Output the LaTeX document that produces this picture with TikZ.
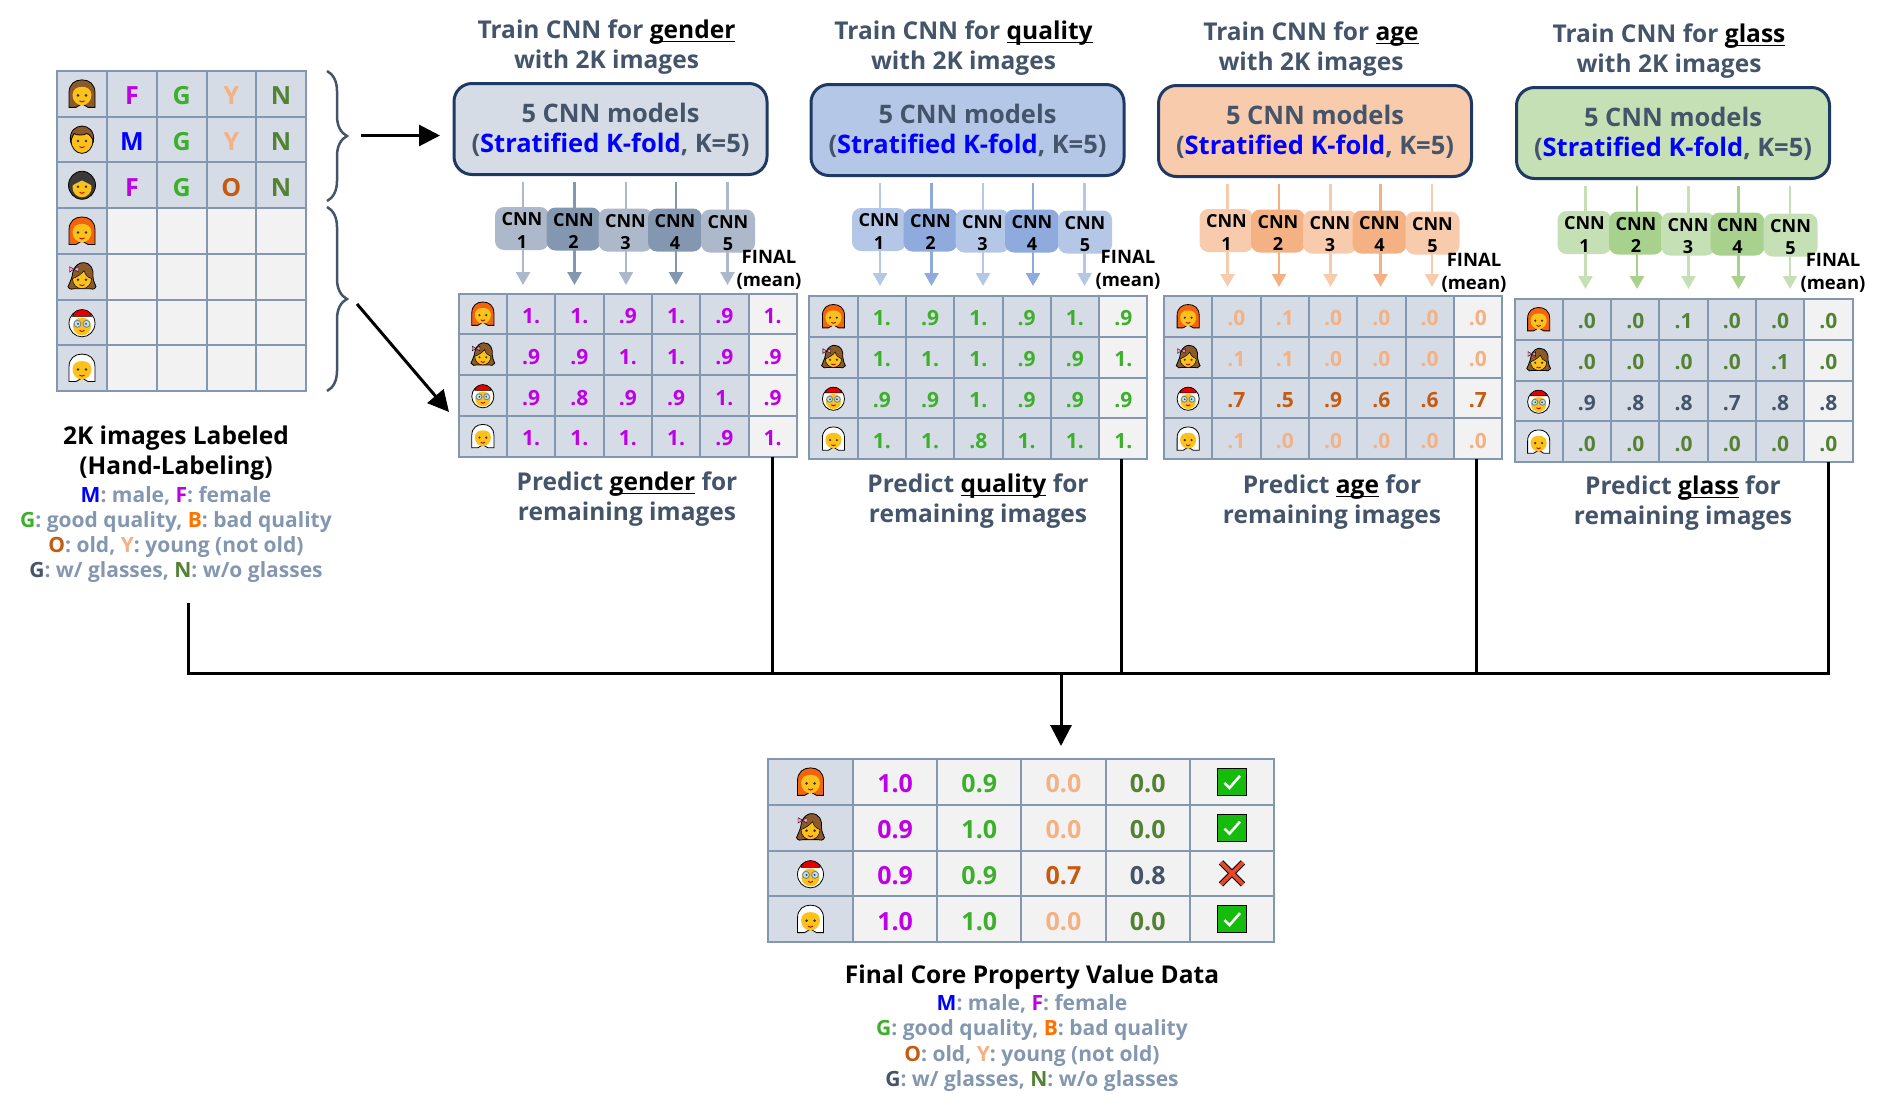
\documentclass[tikz,border=0pt]{standalone}
\usepackage{fontspec}
\setmainfont{Open Sans}
\usetikzlibrary{arrows.meta, positioning, decorations.pathreplacing}

\definecolor{slate}{HTML}{44546A}
\definecolor{gridline}{HTML}{8497B0}
\definecolor{cellblue}{HTML}{D6DCE5}
\definecolor{cellgray}{HTML}{F2F2F2}
\definecolor{boxline}{HTML}{1F3864}
\definecolor{cmale}{HTML}{0000FF}
\definecolor{cfemale}{HTML}{BF00E6}
\definecolor{cgood}{HTML}{3CB02A}
\definecolor{cbad}{HTML}{FF7200}
\definecolor{cold}{HTML}{C55A11}
\definecolor{cyoung}{HTML}{F4B183}
\definecolor{cno}{HTML}{548235}
\definecolor{faceyel}{HTML}{FCC21B}
\definecolor{hairbrown}{HTML}{8A5A2B}
\definecolor{hairdark}{HTML}{3A3A3A}
\definecolor{hairred}{HTML}{F4640F}
\definecolor{okgreen}{HTML}{16BC0C}
\definecolor{noired}{HTML}{E8482A}
\definecolor{genlight}{HTML}{ADB9CA}
\definecolor{qualbox}{HTML}{B4C7E7}
\definecolor{qualdark}{HTML}{8FAADC}
\definecolor{agebox}{HTML}{F8CBAD}
\definecolor{glassbox}{HTML}{C5E0B4}
\definecolor{glassdark}{HTML}{A9D18E}

\newcommand{\facebits}{%
  \fill[black!80] (-4,1.5) circle (1.4) (4,1.5) circle (1.4);
  \draw[red!75!black,line width=.9pt] (-2.5,7) .. controls (-1,8.5) and (1,8.5) .. (2.5,7);}
\newcommand{\wordline}[1]{\setbox0\hbox{#1}\rlap{\rule[-3.5pt]{\wd0}{1.6pt}}\box0}

\tikzset{
  cellbox/.style={draw=gridline, line width=2pt, inner sep=0pt, outer sep=0pt, text height=19pt, text depth=0pt, font=\fontsize{21}{21}\selectfont\bfseries},
  bigcell/.style={cellbox, text height=22pt, font=\fontsize{25}{25}\selectfont\bfseries},
  trainbox/.style={draw=boxline, line width=3pt, rounded corners=18pt, anchor=north west, minimum width=313pt, minimum height=91pt,
    inner sep=0pt, align=center, text=slate, font=\fontsize{25.5}{30}\selectfont\bfseries},
  titletext/.style={align=center, text=slate, inner sep=0pt, font=\fontsize{24.5}{30}\selectfont\bfseries},
  cnnblock/.style={rounded corners=9pt, minimum width=54pt, minimum height=43pt, inner sep=0pt, align=center, font=\fontsize{18}{22.5}\selectfont\bfseries},
  finaltext/.style={align=center, inner sep=0pt, font=\fontsize{18.5}{23}\selectfont\bfseries},
  legendtext/.style={align=center, inner sep=0pt, text=gridline, font=\fontsize{21}{25.3}\selectfont\bfseries},
  cnnarrow/.style={-{Triangle[length=13pt,width=14pt]}, line width=2.5pt},
  bigarrow/.style={-{Triangle[length=21pt,width=21pt]}, line width=3pt, black},
  busline/.style={line width=3pt, black},
  bracket/.style={draw=slate, line width=2.5pt, decorate, decoration={brace, amplitude=20pt}},
  pics/longhair/.style={code={
    \draw[fill=#1,line width=.8pt] (-13,13.5) -- (-13,-1) .. controls (-13,-10) and (-7,-14) .. (0,-14)
      .. controls (7,-14) and (13,-10) .. (13,-1) -- (13,13.5) -- (6,13.5) -- (0,10) -- (-6,13.5) -- cycle;
    \fill[faceyel] (-9.5,1) .. controls (-9,-5) and (-5,-7) .. (0,-7) .. controls (5,-7) and (9,-5) .. (9.5,1)
      .. controls (9.5,7) and (5,11.5) .. (0,11.5) .. controls (-5,11.5) and (-9.5,7) .. (-9.5,1) -- cycle;
    \facebits}},
  pics/brownhair/.style={longhair=hairbrown},
  pics/redhair/.style={longhair=hairred},
  pics/whitehair/.style={longhair=white},
  pics/boyface/.style={code={
    \draw[fill=faceyel,line width=.8pt] (0,1) ellipse (11 and 12.8);
    \draw[fill=hairbrown,line width=.8pt] (-11.5,2) .. controls (-13,-9) and (-6,-13.5) .. (0,-13.5)
      .. controls (6,-13.5) and (13,-9) .. (11.5,2) .. controls (10,-2) and (8,-5) .. (5,-6)
      .. controls (1,-4) and (-5,-4) .. (-8,-6) .. controls (-9,-4) and (-10.5,-1) .. (-11.5,2) -- cycle;
    \facebits}},
  pics/darkface/.style={code={
    \draw[fill=hairdark,line width=.8pt] (0,0) ellipse (13.5 and 14);
    \fill[faceyel] (0,2) ellipse (9.5 and 10);
    \fill[hairdark] (-9.5,0) .. controls (-9,-6) and (-4,-9) .. (0,-9) .. controls (4,-9) and (9,-6) .. (9.5,0)
      .. controls (6,-2) and (2,-4) .. (0,-5) .. controls (-2,-4) and (-6,-2) .. (-9.5,0) -- cycle;
    \facebits}},
  pics/bowgirl/.style={code={
    \draw[fill=hairbrown,line width=.8pt] (-9,-5) .. controls (-7,-12) and (-2,-14) .. (1,-14)
      .. controls (9,-14) and (12,-7) .. (11,0) .. controls (11,4) and (13,7) .. (14,10) .. controls (13,13) and (9,13) .. (7,12)
      -- (-7,12) .. controls (-9,13) and (-13,13) .. (-14,10) .. controls (-13,7) and (-11,4) .. (-10,0) -- cycle;
    \draw[fill=faceyel,line width=.5pt] (-9.5,2) .. controls (-9.5,8) and (-5,12) .. (0,12) .. controls (5,12) and (9.5,8) .. (9.5,2)
      .. controls (6,1) and (3,-2) .. (2,-6) .. controls (-1,-2) and (-5,0) .. (-9.5,2) -- cycle;
    \draw[fill=pink!80!magenta,line width=.4pt] (-12.5,-10) -- (-8,-7.5) -- (-12.5,-4.5) -- cycle (-3.5,-10) -- (-8,-7.5) -- (-3.5,-4.5) -- cycle;
    \fill[black!80] (-4,3) circle (1.4) (4,3) circle (1.4);
    \draw[red!75!black,line width=.9pt] (-2.5,8) .. controls (-1,9.5) and (1,9.5) .. (2.5,8);}},
  pics/clausface/.style={code={
    \draw[fill=white,line width=.8pt] (0,1) ellipse (13 and 13.5);
    \fill[faceyel] (0,4) ellipse (9 and 9);
    \fill[white] (-10,-1) .. controls (-6,-6) and (6,-6) .. (10,-1) -- (10,-5) -- (-10,-5) -- cycle;
    \draw[fill=red!90!black,line width=.6pt] (-9.5,-6) .. controls (-8,-15) and (8,-15) .. (9.5,-6) -- cycle;
    \draw[gray,fill=white!70!cyan,line width=.9pt] (-4.5,1.5) circle (3.5) (4.5,1.5) circle (3.5);
    \fill[black!80] (-4,1.5) circle (1.1) (4,1.5) circle (1.1);
    \draw[red!75!black,line width=.9pt] (-2.5,8) .. controls (-1,9.5) and (1,9.5) .. (2.5,8);}},
  pics/okmark/.style={code={
    \draw[fill=okgreen,line width=1pt] (-14.5,-13.5) rectangle (14.5,13.5);
    \draw[white,line width=2.6pt] (-7.5,1) -- (-2.5,6) -- (8,-6);}},
  pics/noimark/.style={code={
    \draw[black,line width=6pt] (-11,-11) -- (11,11) (11,-11) -- (-11,11);
    \draw[noired,line width=4pt] (-11,-11) -- (11,11) (11,-11) -- (-11,11);}},
}

% one training column: name, left, top, box fill, light, dark, word
\newcommand{\traingroup}[7]{%
  \node[trainbox, fill=#4] (#1) at (#2,#3) {\rule{0pt}{22pt}5 CNN models\\(\textcolor{cmale}{Stratified K-fold}, K=5)};
  \node[titletext, above=7pt of #1, xshift=-4pt] (#1-title) {Train CNN for {\color{black}\wordline{#7}}\\with 2K images};
  \foreach \ax/\bx/\by [count=\i] in {70.5/69.5/146.5, 122/121/147, 173.5/173/148, 223.5/222.5/148, 275/275.5/149} {
    \ifodd\i \def\cc{#5}\else \def\cc{#6}\fi
    \coordinate (#1-s\i) at (#2+\ax,#3+100);
    \coordinate (#1-e\i) at (#2+\ax,#3+203);
    \draw[cnnarrow, draw=\cc, fill=\cc] (#1-s\i) -- (#1-e\i);
    \node[cnnblock, fill=\cc] (#1-b\i) at (#2+\bx,#3+\by) {\rule{0pt}{17pt}CNN\\\i};
  }
}

% prediction table: name, left, top, colour, colour of row 3, rows
\newcommand{\predtable}[6]{%
  \foreach \e [count=\r] in {redhair,bowgirl,clausface,whitehair} {
    \node[cellbox, fill=cellblue, minimum width=48.3pt, minimum height=40.8pt] (#1-\r-0) at (#2+24.15,#3+\r*40.8-20.4) {};
    \pic[scale=.85] at (#1-\r-0) {\e};
  }
  \foreach \vals [count=\r] in {#6} {
    \foreach \v [count=\c] in \vals {
      \ifnum\r=3 \def\cc{#5}\else \def\cc{#4}\fi
      \ifnum\c=6 \def\bg{cellgray}\else \def\bg{cellblue}\fi
      \node[cellbox, fill=\bg, text=\cc, minimum width=48.3pt, minimum height=40.8pt] (#1-\r-\c) at (#2+\c*48.3+24.15,#3+\r*40.8-20.4) {\v};
    }
  }
}

\newcommand{\legendlines}{\textcolor{cmale}{M}: male, \textcolor{cfemale}{F}: female\\
  \textcolor{cgood}{G}: good quality, \textcolor{cbad}{B}: bad quality\\
  \textcolor{cold}{O}: old, \textcolor{cyoung}{Y}: young (not old)\\
  \textcolor{slate}{G}: w/ glasses, \textcolor{cno}{N}: w/o glasses}

\begin{document}
\begin{tikzpicture}[x=1pt,y=-1pt]
  \useasboundingbox (0,0) rectangle (1877,1101);

  % hand labeled table
  \foreach \e [count=\r] in {brownhair,boyface,darkface,redhair,bowgirl,clausface,whitehair} {
    \node[cellbox, fill=cellblue, minimum width=50pt, minimum height=45.7pt] (lab-\r-0) at (82,71+\r*45.7-22.85) {};
    \pic at (lab-\r-0) {\e};
  }
  \foreach \vals [count=\r] in {{F/cfemale,G/cgood,Y/cyoung,N/cno},{M/cmale,G/cgood,Y/cyoung,N/cno},{F/cfemale,G/cgood,O/cold,N/cno}} {
    \foreach \v/\cc [count=\c] in \vals {
      \node[bigcell, fill=cellblue, text=\cc, minimum width=49.75pt, minimum height=45.7pt] (lab-\r-\c) at (107+\c*49.75-24.87,71+\r*45.7-22.85) {\v};
    }
  }
  \foreach \r in {4,...,7} {
    \foreach \c in {1,...,4} {
      \node[cellbox, fill=cellgray, minimum width=49.75pt, minimum height=45.7pt] (lab-\r-\c) at (107+\c*49.75-24.87,71+\r*45.7-22.85) {};
    }
  }
  \draw[bracket] (327,71) -- (327,201);
  \draw[bracket] (327,207) -- (327,391);
  \node[titletext, text=black] (lab-title) at (176,453) {2K images Labeled\\(Hand-Labeling)};
  \node[legendtext] (lab-legend) at (176,534.5) {\legendlines};

  % training columns
  \traingroup{gender}{452.5}{82}{cellblue}{genlight}{gridline}{gender}
  \traingroup{quality}{809.5}{83}{qualbox}{qualbox}{qualdark}{quality}
  \traingroup{age}{1157}{84}{agebox}{agebox}{cyoung}{age}
  \traingroup{glass}{1515}{86}{glassbox}{glassbox}{glassdark}{glass}

  % predictions
  \predtable{tgen}{458.7}{293.5}{cfemale}{cfemale}{{1.,1.,.9,1.,.9,1.},{.9,.9,1.,1.,.9,.9},{.9,.8,.9,.9,1.,.9},{1.,1.,1.,1.,.9,1.}}
  \predtable{tqual}{809.3}{296}{cgood}{cgood}{{1.,.9,1.,.9,1.,.9},{1.,1.,1.,.9,.9,1.},{.9,.9,1.,.9,.9,.9},{1.,1.,.8,1.,1.,1.}}
  \predtable{tage}{1164}{296}{cyoung}{cold}{{.0,.1,.0,.0,.0,.0},{.1,.1,.0,.0,.0,.0},{.7,.5,.9,.6,.6,.7},{.1,.0,.0,.0,.0,.0}}
  \predtable{tglass}{1514.5}{299}{cno}{slate}{{.0,.0,.1,.0,.0,.0},{.0,.0,.0,.0,.1,.0},{.9,.8,.8,.7,.8,.8},{.0,.0,.0,.0,.0,.0}}

  \node[finaltext] (fin-gen) at (769,270) {FINAL\\(mean)};
  \node[finaltext] (fin-qual) at (1128,270) {FINAL\\(mean)};
  \node[finaltext] (fin-age) at (1474,273) {FINAL\\(mean)};
  \node[finaltext] (fin-glass) at (1833,273) {FINAL\\(mean)};

  \node[titletext] (pred-gen) at (627,499.5) {Predict {\color{black}\wordline{gender}} for\\remaining images};
  \node[titletext] (pred-qual) at (978,501.5) {Predict {\color{black}\wordline{quality}} for\\remaining images};
  \node[titletext] (pred-age) at (1332,502.5) {Predict {\color{black}\wordline{age}} for\\remaining images};
  \node[titletext] (pred-glass) at (1683,503.5) {Predict {\color{black}\wordline{glass}} for\\remaining images};

  % arrows out of the labeled table
  \coordinate (topfrom) at (361,135.5);
  \coordinate (topto) at (440,135.5);
  \coordinate (lowfrom) at (357,304);
  \coordinate (lowto) at (449,412);
  \draw[bigarrow] (topfrom) -- (topto);
  \draw[bigarrow] (lowfrom) -- (lowto);

  % bus into the final table
  \coordinate (busleft) at (188,603);
  \coordinate (buscorner) at (188,673);
  \coordinate (busdrop) at (1061,673);
  \draw[busline] (busleft) -- (buscorner) -- (tglass-4-6.south |- buscorner) -- (tglass-4-6.south);
  \draw[busline] (tgen-4-6.south) -- (tgen-4-6.south |- buscorner);
  \draw[busline] ([xshift=-2pt]tqual-4-6.south) -- ([xshift=-2pt]tqual-4-6.south |- buscorner);
  \draw[busline] ([xshift=-1.5pt]tage-4-6.south) -- ([xshift=-1.5pt]tage-4-6.south |- buscorner);
  \coordinate (busend) at (1061,746);
  \draw[bigarrow] (busdrop) -- (busend);

  % final table
  \foreach \e [count=\r] in {redhair,bowgirl,clausface,whitehair} {
    \node[cellbox, fill=cellblue, minimum width=85pt, minimum height=45.75pt] (res-\r-0) at (810.5,759+\r*45.75-22.87) {};
    \pic at (res-\r-0) {\e};
  }
  \foreach \vals [count=\r] in {{1.0/cfemale,0.9/cgood,0.0/cyoung,0.0/cno},{0.9/cfemale,1.0/cgood,0.0/cyoung,0.0/cno},{0.9/cfemale,0.9/cgood,0.7/cold,0.8/slate},{1.0/cfemale,1.0/cgood,0.0/cyoung,0.0/cno}} {
    \foreach \v/\cc [count=\c] in \vals {
      \node[bigcell, fill=cellgray, text=\cc, minimum width=84.2pt, minimum height=45.75pt] (res-\r-\c) at (853+\c*84.2-42.1,759+\r*45.75-22.87) {\v};
    }
  }
  \foreach \m [count=\r] in {okmark,okmark,noimark,okmark} {
    \node[cellbox, fill=cellgray, minimum width=84.2pt, minimum height=45.75pt] (res-\r-5) at (1232,759+\r*45.75-22.87) {};
    \pic at (res-\r-5) {\m};
  }
  \node[titletext, text=black] (res-title) at (1032,977.5) {Final Core Property Value Data};
  \node[legendtext] (res-legend) at (1032,1043) {\legendlines};
\end{tikzpicture}
\end{document}
